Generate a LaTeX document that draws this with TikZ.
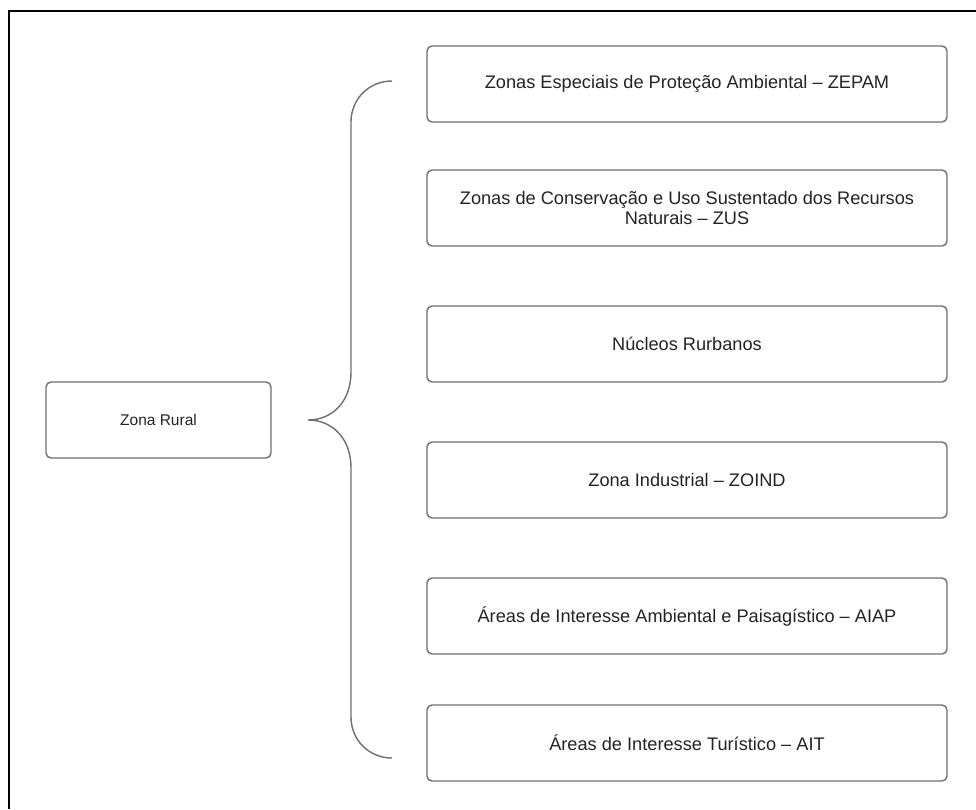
\documentclass[tikz,border=0pt]{standalone}
\usepackage{fontspec}
\setmainfont{Liberation Sans}
\definecolor{boxgray}{RGB}{110, 110, 110}
\definecolor{textgray}{RGB}{35, 35, 35}
\usetikzlibrary{positioning}

\begin{document}
\begin{tikzpicture}[x=1pt, y=-1pt,
  zonebox/.style={draw=boxgray, line width=1.4pt, rounded corners=5pt, minimum width=520pt, minimum height=76pt, align=center, text=textgray, font=\fontsize{18.2}{20}\selectfont},
  ruralbox/.style={draw=boxgray, line width=1.4pt, rounded corners=5pt, minimum width=225pt, minimum height=76pt, text=textgray, font=\fontsize{15.5}{18}\selectfont}]
  \useasboundingbox (0, 0) rectangle (976, 809);

  % Frame (cut at right and bottom)
  \draw[line width=2.2pt, black] (9, 809) -- (9, 11) -- (976, 11);

  % Left node
  \node[ruralbox] (rural) at (158.5, 420) {Zona Rural};

  % Right nodes
  \node[zonebox] (zepam) at (687, 84) {Zonas Especiais de Proteção Ambiental – ZEPAM};
  \node[zonebox] (zus) at (687, 208) {Zonas de Conservação e Uso Sustentado dos Recursos\\Naturais – ZUS};
  \node[zonebox] (nucleos) at (687, 344) {Núcleos Rurbanos};
  \node[zonebox] (zoind) at (687, 480) {Zona Industrial – ZOIND};
  \node[zonebox] (aiap) at (687, 616) {Áreas de Interesse Ambiental e Paisagístico – AIAP};
  \node[zonebox] (ait) at (687, 743) {Áreas de Interesse Turístico – AIT};

  % Brace
  \coordinate (bracetop) at (392, 81);
  \coordinate (bracetip) at (308, 420);
  \coordinate (bracebot) at (392, 758);
  \draw[boxgray, line width=1.4pt]
    (bracetop) .. controls (369, 81) and (351, 99) .. (351, 122)
    -- (351, 372) .. controls (351, 402) and (332, 420) .. (bracetip)
    .. controls (332, 420) and (351, 438) .. (351, 468)
    -- (351, 717) .. controls (351, 740) and (369, 758) .. (bracebot);
\end{tikzpicture}
\end{document}
